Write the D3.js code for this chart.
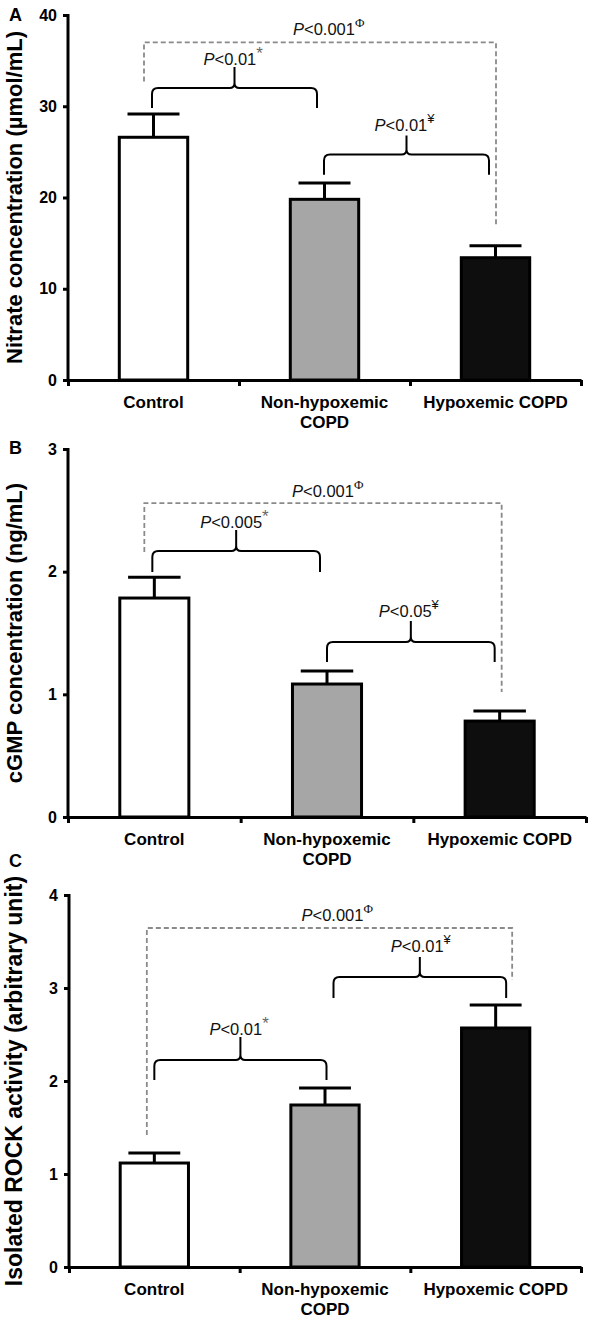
<!DOCTYPE html>
<html>
<head>
<meta charset="utf-8">
<script src="https://cdn.jsdelivr.net/npm/d3@7/dist/d3.min.js"></script>
<style>
  html, body { margin: 0; padding: 0; background: #fff; }
  svg { display: block; }
  text { font-family: "Liberation Sans", Arial, sans-serif; }
</style>
</head>
<body>
<svg id="chart" width="589" height="1322"></svg>
<script>
// ---------------- data ----------------
const categories = ["Control", "Non-hypoxemic COPD", "Hypoxemic COPD"];
const categoryLabelLines = [["Control"], ["Non-hypoxemic", "COPD"], ["Hypoxemic COPD"]];
const barFills = ["#ffffff", "#a6a6a6", "#0e0e0e"];

const nitrateMean = [26.6, 19.8, 13.4];
const nitrateSEM  = [2.55, 1.8, 1.3];
const nitrateTicks = [0, 10, 20, 30, 40];

const cgmpMean = [1.785, 1.084, 0.782];
const cgmpSEM  = [0.17, 0.106, 0.082];
const cgmpTicks = [0, 1, 2, 3];

const rockMean = [1.118, 1.742, 2.57];
const rockSEM  = [0.108, 0.183, 0.247];
const rockTicks = [0, 1, 2, 3, 4];

// brace annotations (y in data units, categories by index)
const nitrateBraces = [
  {from: 0, to: 1, dxFrom: -1.5, dxTo: -7.5, yEnd: 29.8, yBar: 32.0, yPeak: 34.3, label: "<0.01", sup: "*", labelY: 34.5, labelDx: -31},
  {from: 1, to: 2, dxFrom: -0.5, dxTo: -6.5, yEnd: 22.5, yBar: 24.7, yPeak: 26.8, label: "<0.01", sup: "¥", labelY: 27.3, labelDx: -32}
];
const nitrateDashed = {from: 0, to: 2, dxFrom: -9.5, dxTo: 0.5, yFrom: 32.7, yTo: 16.8, yTop: 37.0, label: "<0.001", sup: "Φ", labelY: 37.8, labelDx: -27};

const cgmpBraces = [
  {from: 0, to: 1, dxFrom: -2, dxTo: -7, yEnd: 1.997, yBar: 2.168, yPeak: 2.339, label: "<0.005", sup: "*", labelY: 2.355, labelDx: -36},
  {from: 1, to: 2, dxFrom: 0, dxTo: -5, yEnd: 1.263, yBar: 1.426, yPeak: 1.597, label: "<0.05", sup: "¥", labelY: 1.63, labelDx: -32}
];
const cgmpDashed = {from: 0, to: 2, dxFrom: -10, dxTo: 2, yFrom: 2.16, yTo: 1.019, yTop: 2.559, label: "<0.001", sup: "Φ", labelY: 2.608, labelDx: -31};

const rockBraces = [
  {from: 0, to: 1, dxFrom: 0, dxTo: 1.5, yEnd: 2.011, yBar: 2.226, yPeak: 2.473, label: "<0.01", sup: "*", labelY: 2.495, labelDx: -31},
  {from: 1, to: 2, dxFrom: 8.5, dxTo: 10.5, yEnd: 2.892, yBar: 3.118, yPeak: 3.333, label: "<0.01", sup: "¥", labelY: 3.387, labelDx: -29}
];
const rockDashed = {from: 0, to: 2, dxFrom: -7.5, dxTo: 16.5, yFrom: 1.419, yTo: 3.086, yTop: 3.645, label: "<0.001", sup: "Φ", labelY: 3.72, labelDx: -28};

// ---------------- layout ----------------
const panels = [
  {letter: "A", letterY: 21, title: "Nitrate concentration (µmol/mL)", titleSize: 22,
   means: nitrateMean, sems: nitrateSEM, ticks: nitrateTicks, max: 40,
   yTop: 15, yBottom: 380, x0: 68, x1: 581, braces: nitrateBraces, dashed: nitrateDashed},
  {letter: "B", letterY: 454, title: "cGMP concentration (ng/mL)", titleSize: 22,
   means: cgmpMean, sems: cgmpSEM, ticks: cgmpTicks, max: 3,
   yTop: 449, yBottom: 817, x0: 68, x1: 586, braces: cgmpBraces, dashed: cgmpDashed},
  {letter: "C", letterY: 867, title: "Isolated ROCK activity (arbitrary unit)", titleSize: 23,
   means: rockMean, sems: rockSEM, ticks: rockTicks, max: 4,
   yTop: 895, yBottom: 1267, x0: 69, x1: 581, braces: rockBraces, dashed: rockDashed}
];

const svg = d3.select("#chart");

function pLabel(g, x, y, label, sup) {
  const t = g.append("text").attr("x", x).attr("y", y)
    .attr("font-size", 16.5).attr("fill", "#111");
  t.append("tspan").attr("font-style", "italic").text("P");
  t.append("tspan").text(label);
  t.append("tspan").attr("dy", sup === "*" ? -6 : -8)
    .attr("font-size", sup === "*" ? 17 : 13)
    .attr("fill", sup === "*" ? "#666" : "#111")
    .attr("font-family", sup === "Φ" ? "'Liberation Serif', serif" : null)
    .text(sup);
}

panels.forEach(p => {
  const g = svg.append("g");
  const x = d3.scaleBand().domain(categories).range([p.x0, p.x1]).paddingInner(0.6).paddingOuter(0.3);
  const y = d3.scaleLinear().domain([0, p.max]).range([p.yBottom, p.yTop]);
  const cx = i => x(categories[i]) + x.bandwidth() / 2;

  // bars
  g.selectAll("rect.bar").data(p.means).join("rect")
    .attr("x", (d, i) => x(categories[i]))
    .attr("y", d => y(d))
    .attr("width", x.bandwidth())
    .attr("height", d => y(0) - y(d))
    .attr("fill", (d, i) => barFills[i])
    .attr("stroke", "#000").attr("stroke-width", 3);

  // error bars
  const capW = x.bandwidth() * 0.76;
  p.means.forEach((m, i) => {
    const top = y(m + p.sems[i]);
    g.append("line").attr("x1", cx(i)).attr("x2", cx(i)).attr("y1", y(m)).attr("y2", top)
      .attr("stroke", "#000").attr("stroke-width", 3);
    g.append("line").attr("x1", cx(i) - capW / 2).attr("x2", cx(i) + capW / 2).attr("y1", top).attr("y2", top)
      .attr("stroke", "#000").attr("stroke-width", 3);
  });

  // y axis
  const ya = g.append("g").attr("transform", `translate(${p.x0},0)`)
    .call(d3.axisLeft(y).tickValues(p.ticks).tickSize(5).tickSizeOuter(0).tickPadding(6).tickFormat(d3.format("d")));
  ya.select(".domain").attr("stroke-width", 3).attr("d", `M0,${p.yTop - 1}V${p.yBottom + 1}`);
  ya.selectAll(".tick line").attr("stroke-width", 3);
  ya.selectAll(".tick text").attr("font-size", 16).attr("font-weight", "bold")
    .attr("font-family", "'Liberation Sans', Arial, sans-serif").attr("fill", "#000");

  // x axis (ticks at band boundaries)
  const xl = d3.scaleLinear().domain([0, categories.length]).range([p.x0, p.x1]);
  const xa = g.append("g").attr("transform", `translate(0,${p.yBottom})`)
    .call(d3.axisBottom(xl).tickValues(d3.range(categories.length + 1)).tickSize(6).tickSizeOuter(0).tickFormat(""));
  xa.select(".domain").attr("stroke-width", 3);
  xa.selectAll(".tick line").attr("stroke-width", 3);

  // category labels
  categoryLabelLines.forEach((lines, i) => {
    const t = g.append("text").attr("text-anchor", "middle").attr("font-weight", "bold")
      .attr("font-size", 17).attr("fill", "#000");
    lines.forEach((ln, k) => {
      t.append("tspan").attr("x", cx(i)).attr("y", p.yBottom + 28 + k * 20).text(ln);
    });
  });

  // y title
  g.append("text")
    .attr("transform", `translate(22,${(p.yTop + p.yBottom) / 2}) rotate(-90)`)
    .attr("text-anchor", "middle").attr("font-weight", "bold").attr("font-size", p.titleSize)
    .attr("fill", "#000").text(p.title);

  // panel letter
  g.append("text").attr("x", 9).attr("y", p.letterY).attr("font-weight", "bold")
    .attr("font-size", 18).attr("fill", "#000").text(p.letter);

  // dashed overall comparison
  const d = p.dashed;
  const dx1 = cx(d.from) + d.dxFrom, dx2 = cx(d.to) + d.dxTo;
  g.append("path")
    .attr("d", `M${dx1},${y(d.yFrom)}V${y(d.yTop)}H${dx2}V${y(d.yTo)}`)
    .attr("fill", "none").attr("stroke", "#8a8a8a").attr("stroke-width", 1.8)
    .attr("stroke-dasharray", "5,3");
  pLabel(g, (dx1 + dx2) / 2 + d.labelDx, y(d.labelY), d.label, d.sup);

  // curly braces
  p.braces.forEach(b => {
    const x1 = cx(b.from) + b.dxFrom, x2 = cx(b.to) + b.dxTo, xp = (x1 + x2) / 2;
    const yb = y(b.yEnd), yh = y(b.yBar), yt = y(b.yPeak);
    const r = 6, rp = 5;
    const path = `M${x1},${yb}L${x1},${yh + r}Q${x1},${yh} ${x1 + r},${yh}L${xp - rp},${yh}Q${xp},${yh} ${xp},${yh - rp}L${xp},${yt}` +
      `M${xp},${yh - rp}Q${xp},${yh} ${xp + rp},${yh}L${x2 - r},${yh}Q${x2},${yh} ${x2},${yh + r}L${x2},${yb}`;
    g.append("path").attr("d", path).attr("fill", "none").attr("stroke", "#000").attr("stroke-width", 2);
    pLabel(g, xp + b.labelDx, y(b.labelY), b.label, b.sup);
  });
});
</script>
</body>
</html>
